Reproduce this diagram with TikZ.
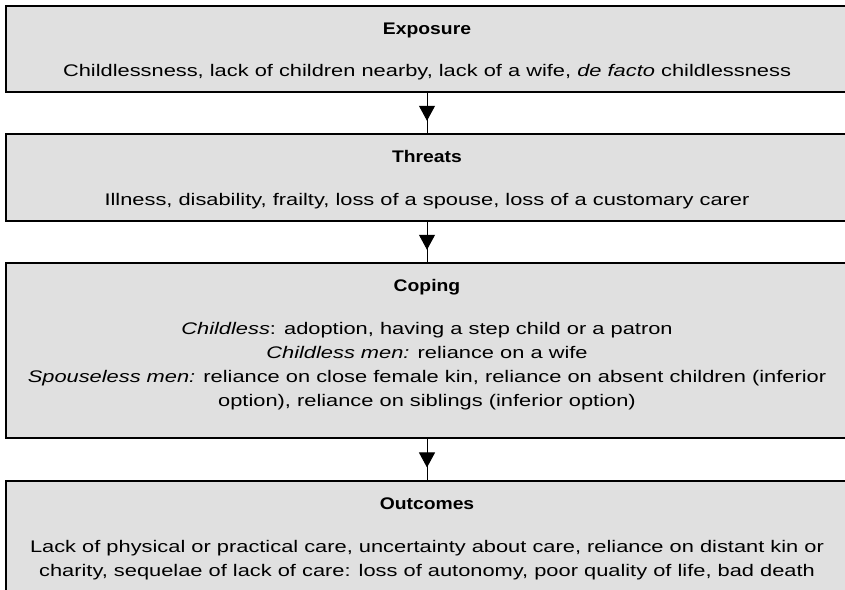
\documentclass[tikz,border=0pt]{standalone}
\usepackage{fontspec}
\setmainfont{Liberation Sans}[FakeStretch=1.3, BoldFeatures={FakeStretch=1.15}]
\usetikzlibrary{positioning,arrows.meta,decorations.markings}
\definecolor{boxgray}{HTML}{E0E0E0}
\begin{document}
\begin{tikzpicture}[
    x=0.75pt, y=-0.75pt,
    stage/.style={draw, line width=0.8pt, fill=boxgray, rectangle, minimum width=631.5pt, inner sep=0pt},
    stagetext/.style={align=center, inner sep=0pt, font=\fontsize{12.6}{18}\selectfont},
    flow/.style={line width=0.75pt, postaction={decorate},
        decoration={markings, mark=at position 0.69 with {\arrow{Triangle[length=11.25pt,width=12pt]}}}}
]
    \useasboundingbox (0,0) rectangle (845,589);
    \clip (0,0) rectangle (845,589);

    % Exposure
    \node[stage, minimum height=64.5pt] (exposure) at (427,49) {};
    \node[stagetext, below=12.75pt of exposure.north] (exposuretext) {
        \textbf{Exposure}\\[14pt]
        Childlessness, lack of children nearby, lack of a wife, \textit{de facto} childlessness
    };

    % Threats
    \node[stage, minimum height=65.25pt] (threats) at (427,177.5) {};
    \node[stagetext, below=12.75pt of threats.north] (threatstext) {
        \textbf{Threats}\\[14pt]
        Illness, disability, frailty, loss of a spouse, loss of a customary carer
    };

    % Coping
    \node[stage, minimum height=131.25pt] (coping) at (427,350.5) {};
    \node[stagetext, below=12.75pt of coping.north] (copingtext) {
        \textbf{Coping}\\[14pt]
        \textit{Childless}: adoption, having a step child or a patron\\
        \textit{Childless men:} reliance on a wife\\
        \textit{Spouseless men:} reliance on close female kin, reliance on absent children (inferior\\
        option), reliance on siblings (inferior option)
    };

    % Outcomes
    \node[stage, minimum height=90pt] (outcomes) at (427,541) {};
    \node[stagetext, below=12.75pt of outcomes.north] (outcomestext) {
        \textbf{Outcomes}\\[14pt]
        Lack of physical or practical care, uncertainty about care, reliance on distant kin or\\
        charity, sequelae of lack of care: loss of autonomy, poor quality of life, bad death
    };

    % Connections
    \draw[flow] (exposure.south) -- (threats.north);
    \draw[flow] (threats.south) -- (coping.north);
    \draw[flow] (coping.south) -- (outcomes.north);

\end{tikzpicture}
\end{document}
